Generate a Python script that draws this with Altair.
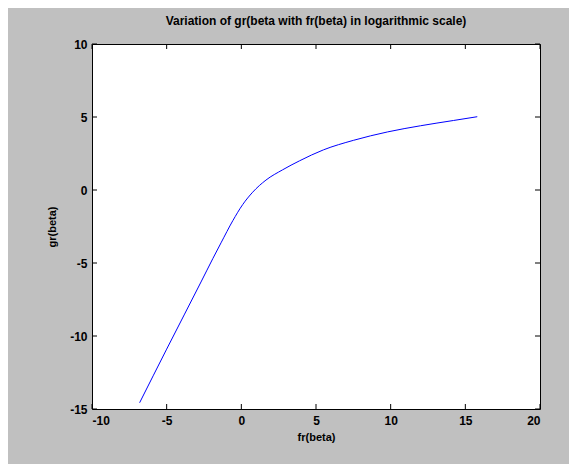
import altair as alt
import pandas as pd

# Curve
fr_beta = [-6.81, -5.0, -3.8, -2.7, -1.9, -1.36, -0.57, 0.09, 0.76, 1.65, 2.76,
           3.9, 5.5, 7.5, 9.8, 12.0, 14.2, 15.8]
gr_beta = [-14.57, -10.9, -8.5, -6.3, -4.68, -3.62, -2.1, -1.0, -0.15, 0.68, 1.38,
           2.0, 2.75, 3.4, 3.98, 4.4, 4.76, 5.02]

x_ticks = [-10, -5, 0, 5, 10, 15, 20]
y_ticks = [-15, -10, -5, 0, 5, 10]

title_text = "Variation of gr(beta with fr(beta) in logarithmic scale)"
x_title = "fr(beta)"
y_title = "gr(beta)"

W, H = 448, 365
FONT = "Liberation Sans, Arial, sans-serif"

df = pd.DataFrame({"fr": fr_beta, "gr": gr_beta})
xt = pd.DataFrame({"t": x_ticks})
yt = pd.DataFrame({"t": y_ticks})

xs = alt.Scale(domain=[-10, 20], nice=False, zero=False)
ys = alt.Scale(domain=[-15, 10], nice=False, zero=False)
x_axis = alt.Axis(values=x_ticks, title=x_title, labelPadding=6, titlePadding=5,
                  labelExpr="'' + datum.value")
y_axis = alt.Axis(values=y_ticks, title=y_title, labelPadding=5, titlePadding=12,
                  labelExpr="'' + datum.value")

line = alt.Chart(df).mark_line(color="#0000ff", strokeWidth=1, interpolate="monotone").encode(
    x=alt.X("fr:Q", scale=xs, axis=x_axis, title=x_title),
    y=alt.Y("gr:Q", scale=ys, axis=y_axis, title=y_title),
)

tick_style = dict(color="black", strokeWidth=1)
xb = alt.Chart(xt).mark_rule(**tick_style).encode(
    x=alt.X("t:Q", scale=xs, axis=x_axis, title=x_title), y=alt.value(H), y2=alt.value(H - 5))
xtop = alt.Chart(xt).mark_rule(**tick_style).encode(
    x=alt.X("t:Q", scale=xs, axis=x_axis, title=x_title), y=alt.value(0), y2=alt.value(5))
yl = alt.Chart(yt).mark_rule(**tick_style).encode(
    y=alt.Y("t:Q", scale=ys, axis=y_axis, title=y_title), x=alt.value(0), x2=alt.value(5))
yr = alt.Chart(yt).mark_rule(**tick_style).encode(
    y=alt.Y("t:Q", scale=ys, axis=y_axis, title=y_title), x=alt.value(W), x2=alt.value(W - 5))

chart = alt.layer(line, xb, xtop, yl, yr).properties(
    width=W, height=H,
    title=alt.TitleParams(title_text, anchor="middle", fontSize=12, font=FONT,
                          fontWeight="bold", color="black", offset=10),
    background="#c0c0c0",
    autosize=alt.AutoSizeParams(type="none"),
    padding={"left": 84, "top": 36, "right": 29, "bottom": 55},
).configure_view(
    fill="white", stroke="black", strokeWidth=1
).configure_axis(
    grid=False, ticks=False, domain=False,
    labelFont=FONT, labelFontSize=12, labelFontWeight="bold", labelColor="black",
    titleFont=FONT, titleFontSize=11, titleFontWeight="bold", titleColor="black",
)

chart.save("out.html", embed_options={"renderer": "svg", "actions": False})
